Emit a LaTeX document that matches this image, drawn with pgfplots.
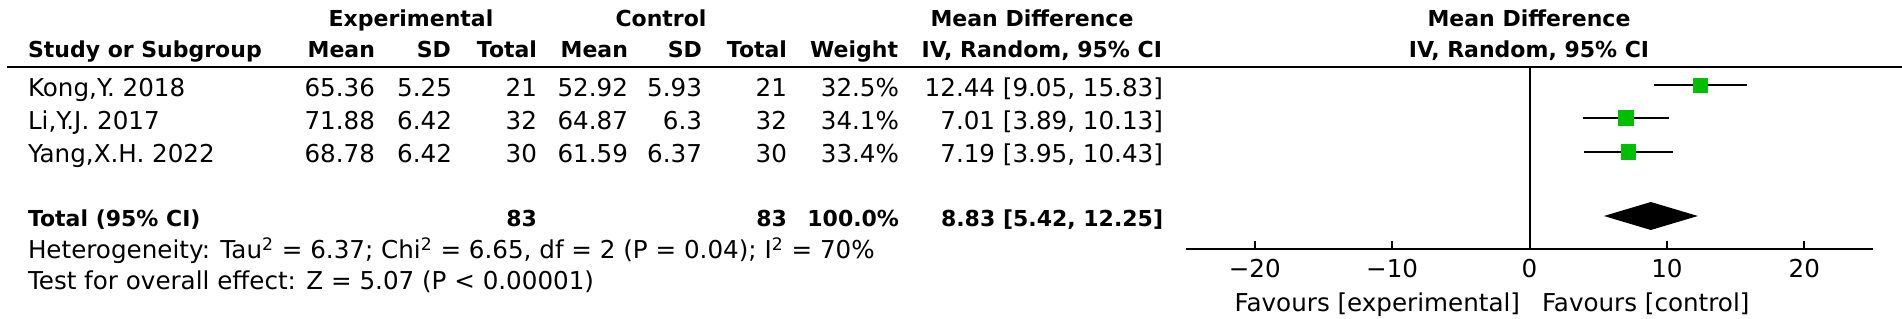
\documentclass[border=0pt]{standalone}
\usepackage{pgfplots}
\pgfplotsset{compat=1.18}
\usepackage{fontspec}
\setmainfont{DejaVu Sans}
\definecolor{sqgreen}{RGB}{0,190,0}
\newcommand{\rg}{\fontsize{12.3}{14}\selectfont}
\newcommand{\bd}{\fontsize{11}{13}\selectfont\bfseries}
\begin{document}
\begin{tikzpicture}
\begin{scope}[x=0.5pt,y=-0.5pt,every node/.style={inner sep=0pt,outer sep=0pt}]
% header row 1
\node[anchor=base,font=\bd] at (411,27) {Experimental};
\node[anchor=base,font=\bd] at (661,27) {Control};
\node[anchor=base,font=\bd] at (1032,27) {Mean Difference};
\node[anchor=base,font=\bd] at (1529,27) {Mean Difference};
% header row 2
\node[anchor=base west,font=\bd] at (28,58) {Study or Subgroup};
\node[anchor=base east,font=\bd] at (375,58) {Mean};
\node[anchor=base east,font=\bd] at (451,58) {SD};
\node[anchor=base east,font=\bd] at (537,58) {Total};
\node[anchor=base east,font=\bd] at (628,58) {Mean};
\node[anchor=base east,font=\bd] at (702,58) {SD};
\node[anchor=base east,font=\bd] at (787,58) {Total};
\node[anchor=base east,font=\bd] at (898,58) {Weight};
\node[anchor=base east,font=\bd] at (1162,58) {IV, Random, 95\% CI};
\node[anchor=base,font=\bd] at (1529,58) {IV, Random, 95\% CI};
\draw[line width=1pt] (7,67) -- (1902,67);
% study rows
\foreach \y/\s/\em/\esd/\en/\cm/\csd/\cn/\w/\ci in {
 96.5/{Kong,Y. 2018}/65.36/5.25/21/52.92/5.93/21/32.5\%/{12.44 [9.05, 15.83]},
 129.5/{Li,Y.J. 2017}/71.88/6.42/32/64.87/6.3/32/34.1\%/{7.01 [3.89, 10.13]},
 163/{Yang,X.H. 2022}/68.78/6.42/30/61.59/6.37/30/33.4\%/{7.19 [3.95, 10.43]}}{
 \node[anchor=base west,font=\rg] at (28,\y) {\s};
 \node[anchor=base east,font=\rg] at (375,\y) {\em};
 \node[anchor=base east,font=\rg] at (452,\y) {\esd};
 \node[anchor=base east,font=\rg] at (537,\y) {\en};
 \node[anchor=base east,font=\rg] at (628,\y) {\cm};
 \node[anchor=base east,font=\rg] at (702,\y) {\csd};
 \node[anchor=base east,font=\rg] at (787,\y) {\cn};
 \node[anchor=base east,font=\rg] at (899,\y) {\w};
 \node[anchor=base east,font=\rg] at (1163,\y) {\ci};
}
% total row
\node[anchor=base west,font=\bd] at (28,227) {Total (95\% CI)};
\node[anchor=base east,font=\bd] at (537,227) {83};
\node[anchor=base east,font=\bd] at (787,227) {83};
\node[anchor=base east,font=\bd] at (899,227) {100.0\%};
\node[anchor=base east,font=\bd] at (1163,227) {8.83 [5.42, 12.25]};
\node[anchor=base west,font=\rg] at (28,259) {Heterogeneity: Tau\textsuperscript{2} = 6.37; Chi\textsuperscript{2} = 6.65, df = 2 (P = 0.04); I\textsuperscript{2} = 70\%};
\node[anchor=base west,font=\rg] at (28,290) {Test for overall effect: Z = 5.07 (P < 0.00001)};
% favours
\node[anchor=base east,font=\rg] at (1520,312) {Favours [experimental]};
\node[anchor=base west,font=\rg] at (1542,312) {Favours [control]};
\end{scope}
\begin{axis}[
 at={(593pt,-124.5pt)}, anchor=south west,
 width=343.5pt, height=91.5pt, scale only axis,
 xmin=-25, xmax=25, ymin=-249, ymax=-66,
 axis x line=bottom, axis y line=none,
 x axis line style={-, line width=1pt},
 xtick={-20,-10,0,10,20}, xticklabels={−20,−10,0,10,20},
 tick align=inside, major tick length=4pt,
 tick style={black, line width=1pt},
 xticklabel style={font=\rg, anchor=base, inner sep=0pt, yshift=-14.5pt},
 ytick=\empty, clip=false,
]
\addplot[black, line width=1pt] coordinates {(0,-66) (0,-249)};
\addplot[black, line width=1pt] coordinates {(9.05,-85) (15.83,-85)};
\addplot[black, line width=1pt] coordinates {(3.89,-118) (10.13,-118)};
\addplot[black, line width=1pt] coordinates {(3.95,-152) (10.43,-152)};
\addplot[only marks, mark=square*, mark size=3.5pt, mark options={draw=sqgreen, fill=sqgreen}] coordinates {(12.44,-85)};
\addplot[only marks, mark=square*, mark size=3.75pt, mark options={draw=sqgreen, fill=sqgreen}] coordinates {(7.01,-118)};
\addplot[only marks, mark=square*, mark size=3.65pt, mark options={draw=sqgreen, fill=sqgreen}] coordinates {(7.19,-152)};
\addplot[draw=none, fill=black] coordinates {(5.42,-216) (8.83,-202) (12.25,-216) (8.83,-230) (5.42,-216)};
\end{axis}
\pgfresetboundingbox
\path[use as bounding box] (0,0) rectangle (951pt,-159.5pt);
\end{tikzpicture}
\end{document}
